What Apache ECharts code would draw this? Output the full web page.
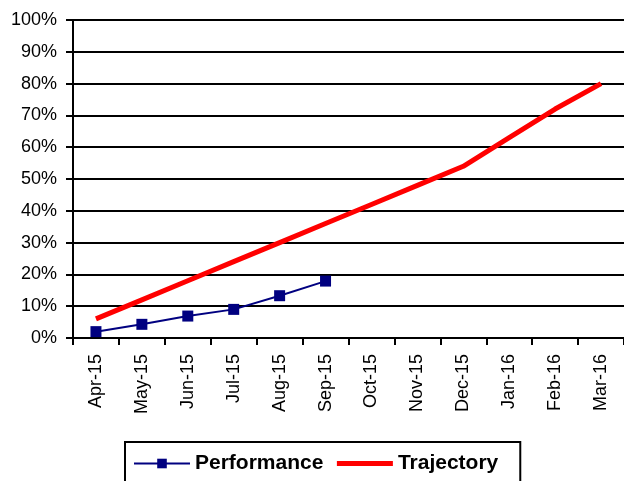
<!DOCTYPE html>
<html>
<head>
<meta charset="utf-8">
<script src="https://cdn.jsdelivr.net/npm/echarts@6/dist/echarts.min.js"></script>
<style>
html,body{margin:0;padding:0;background:#fff;}
#chart{width:624px;height:481px;}
</style>
</head>
<body>
<div id="chart"></div>
<script>
var categories = ['Apr-15','May-15','Jun-15','Jul-15','Aug-15','Sep-15','Oct-15','Nov-15','Dec-15','Jan-16','Feb-16','Mar-16'];
var performance = [0.02, 0.043, 0.069, 0.09, 0.133, 0.179, null, null, null, null, null, null];
var trajectory = [0.06, 0.12, 0.18, 0.24, 0.30, 0.36, 0.42, 0.48, 0.54, 0.63, 0.72, 0.80];
var seriesNames = ['Performance', 'Trajectory'];

var FONT = "'Liberation Sans', Arial, sans-serif";
var chart = echarts.init(document.getElementById('chart'), null, {renderer: 'canvas'});
chart.setOption({
  animation: false,
  backgroundColor: '#ffffff',
  grid: {left: 73, right: 0, top: 20, bottom: 143, containLabel: false},
  xAxis: {
    type: 'category',
    data: categories,
    boundaryGap: true,
    axisLine: {lineStyle: {color: '#000', width: 2}},
    axisTick: {show: true, alignWithLabel: false, length: 7, lineStyle: {color: '#000', width: 2}},
    axisLabel: {interval: 0, rotate: 90, margin: 16, color: '#000', fontSize: 18, fontFamily: FONT},
    splitLine: {show: false}
  },
  yAxis: {
    type: 'value',
    min: 0, max: 1, interval: 0.1,
    axisLine: {show: true, lineStyle: {color: '#000', width: 2}},
    axisTick: {show: true, length: 7, lineStyle: {color: '#000', width: 2}},
    axisLabel: {margin: 16, color: '#000', fontSize: 18, fontFamily: FONT,
      formatter: function (v) { return Math.round(v * 100) + '%'; }},
    splitLine: {show: true, lineStyle: {color: '#000', width: 2}}
  },
  legend: {
    data: [
      {name: seriesNames[0], lineStyle: {width: 2}},
      {name: seriesNames[1], itemStyle: {opacity: 0}, lineStyle: {width: 5, color: '#ff0000'}}
    ],
    left: 125, top: 442,
    orient: 'horizontal',
    itemWidth: 56, itemHeight: 12, itemGap: 11,
    padding: [11, 22, 28, 8],
    borderColor: '#000', borderWidth: 2,
    textStyle: {color: '#000', fontSize: 21, fontWeight: 'bold', fontFamily: FONT}
  },
  series: [
    {
      name: seriesNames[0], type: 'line', data: performance,
      color: '#000080',
      symbol: 'rect', symbolSize: 11, showSymbol: true,
      lineStyle: {color: '#000080', width: 2},
      itemStyle: {color: '#000080'},
      connectNulls: false, z: 3
    },
    {
      name: seriesNames[1], type: 'line', data: trajectory,
      color: '#ff0000',
      symbol: 'none',
      lineStyle: {color: '#ff0000', width: 5},
      itemStyle: {color: '#ff0000'},
      z: 2
    }
  ]
});
</script>
</body>
</html>
